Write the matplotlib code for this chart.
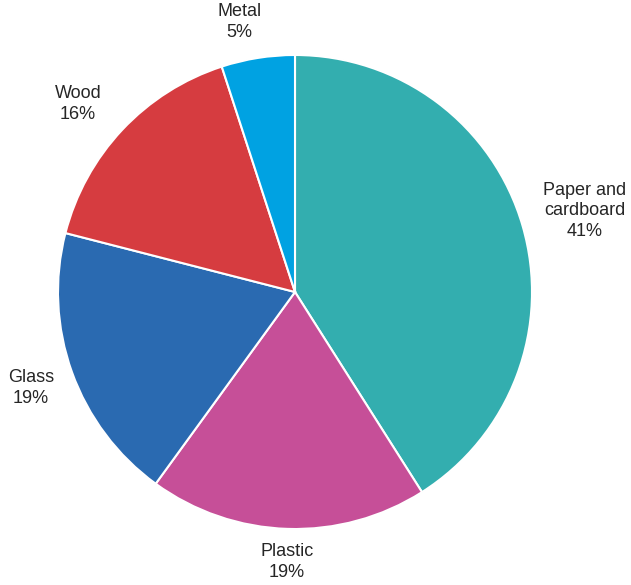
import numpy as np
import matplotlib
matplotlib.use("Agg")
import matplotlib.pyplot as plt

plt.rcParams["font.family"] = ["Liberation Sans", "DejaVu Sans"]

# ── data ──────────────────────────────────────────────────────────────────────
labels  = ["Paper and\ncardboard", "Plastic", "Glass", "Wood", "Metal"]
shares  = [41, 19, 19, 16, 5]
colors  = ["#33AEAF", "#C64F98", "#2A6AB1", "#D63C40", "#00A2E2"]

# label centre, offset from pie centre in units of radius (x right, y up)
label_off = [(1.223, 0.342), (-0.034, -1.139), (-1.114, -0.405),
             (-0.916, 0.793), (-0.236, 1.139)]

W, H = 631, 585
fig = plt.figure(figsize=(W / 100, H / 100), dpi=100)
ax = fig.add_axes([0, 0, 1, 1])

cx, cy, R = 295, H - 292, 237
wedges, _ = ax.pie(shares, colors=colors, startangle=90, counterclock=False,
                   center=(cx, cy), radius=R, frame=True,
                   wedgeprops=dict(edgecolor="white", linewidth=1.5))
ax.set_xlim(0, W)
ax.set_ylim(0, H)
ax.set_aspect("equal")
ax.axis("off")

for lab, s, (ox, oy) in zip(labels, shares, label_off):
    ax.text(cx + ox * R, cy + oy * R, f"{lab}\n{s}%", ha="center", va="center",
            fontsize=13, color="#262626", linespacing=1.28)

fig.savefig("out.png", dpi=100)
